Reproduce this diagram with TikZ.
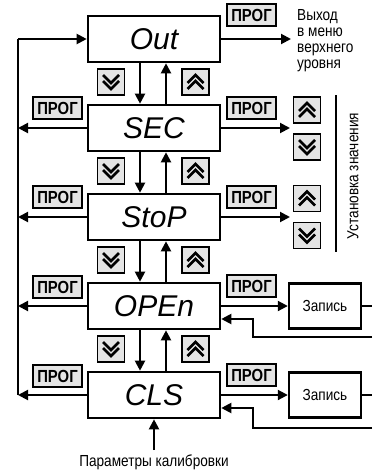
\documentclass[tikz,border=0pt]{standalone}
\usepackage{fontspec}
\setmainfont{Liberation Sans}
\newfontfamily\cond[FakeStretch=0.85]{Liberation Sans}
\usetikzlibrary{arrows.meta}
\definecolor{btn}{HTML}{E4E4E4}
\tikzset{
  mainbox/.style={draw, line width=2.6pt, minimum width=132pt, minimum height=46pt, inner sep=0pt,
    font=\fontsize{30}{30}\selectfont\itshape},
  zapbox/.style={draw, line width=2.4pt, minimum width=72pt, minimum height=45pt, inner sep=0pt,
    font=\cond\fontsize{16}{18}\selectfont},
  prog/.style={draw, line width=1.8pt, fill=btn, minimum width=49pt, minimum height=22pt, inner sep=0pt,
    font=\cond\bfseries\fontsize{17.5}{17.5}\selectfont},
  chbtn/.style={draw, line width=1.8pt, fill=btn, minimum width=27pt, minimum height=26pt, inner sep=0pt},
  chev/.style={line width=2.8pt, miter limit=10},
  conn/.style={line width=2pt},
  arr/.style={line width=2pt, -{Triangle[length=10pt,width=10pt]}},
  lbl/.style={font=\cond\fontsize{16}{16}\selectfont, inner sep=0pt},
}
\newcommand\dnchev[1]{\begin{scope}[shift={(#1.center)}]\draw[chev] (-8,-7)--(0,1)--(8,-7) (-8,-1)--(0,7)--(8,-1);\end{scope}}
\newcommand\upchev[1]{\begin{scope}[shift={(#1.center)}]\draw[chev] (-8,7)--(0,-1)--(8,7) (-8,1)--(0,-7)--(8,1);\end{scope}}
\begin{document}
\begin{tikzpicture}[x=1pt,y=-1pt]
\useasboundingbox (0,0) rectangle (372,471);
% main boxes
\node[mainbox] (out) at (154,39) {Out};
\node[mainbox] (sec) at (154,128) {SEC};
\node[mainbox] (stop) at (154,217) {StoP};
\node[mainbox] (open) at (154,306) {OPEn};
\node[mainbox] (cls) at (154,395) {CLS};
% left bus
\coordinate (L) at (18,39);
\coordinate (Lb) at (18,395);
\draw[conn] (Lb) -- (L);
\draw[arr] (L) -- (out.west);
\foreach \n in {sec,stop,open,cls} {\draw[arr] (\n.west) -- (\n.west -| L);}
% left prog
\node[prog] (pl1) at (57.5,108) {ПРОГ};
\node[prog] (pl2) at (57.5,197) {ПРОГ};
\node[prog] (pl3) at (57.5,287) {ПРОГ};
\node[prog] (pl4) at (57.5,376) {ПРОГ};
% vertical arrows between boxes
\draw[arr] ([xshift=-14pt]out.south) -- ([xshift=-14pt]sec.north);
\draw[arr] ([xshift=12pt]sec.north) -- ([xshift=12pt]out.south);
\draw[arr] ([xshift=-14pt]sec.south) -- ([xshift=-14pt]stop.north);
\draw[arr] ([xshift=12pt]stop.north) -- ([xshift=12pt]sec.south);
\draw[arr] ([xshift=-14pt]stop.south) -- ([xshift=-14pt]open.north);
\draw[arr] ([xshift=12pt]open.north) -- ([xshift=12pt]stop.south);
\draw[arr] ([xshift=-14pt]open.south) -- ([xshift=-14pt]cls.north);
\draw[arr] ([xshift=12pt]cls.north) -- ([xshift=12pt]open.south);
% chevron buttons between boxes
\foreach \i/\y in {1/82,2/171,3/260,4/349} {
  \node[chbtn] (d\i) at (111,\y) {};
  \node[chbtn] (u\i) at (195.5,\y) {};
  \dnchev{d\i}
  \upchev{u\i}
}
% right side
\node[prog] (pr0) at (251.5,15) {ПРОГ};
\node[prog] (pr1) at (251.5,108) {ПРОГ};
\node[prog] (pr2) at (251.5,197) {ПРОГ};
\node[prog] (pr3) at (251.5,286) {ПРОГ};
\node[prog] (pr4) at (251.5,375) {ПРОГ};
\coordinate (T0) at (291,39);
\draw[arr] (out.east) -- (T0);
\node[lbl, anchor=north west, align=left] (exit) at (297,9) {Выход\\в меню\\верхнего\\уровня};
\coordinate (T1) at (290,128);
\coordinate (T2) at (290,217);
\draw[arr] (sec.east) -- (T1);
\draw[arr] (stop.east) -- (T2);
\node[chbtn] (ru1) at (307,110) {};
\node[chbtn] (rd1) at (307,147) {};
\node[chbtn] (ru2) at (307,198.5) {};
\node[chbtn] (rd2) at (307,235.5) {};
\upchev{ru1}\dnchev{rd1}\upchev{ru2}\dnchev{rd2}
\coordinate (V1) at (336,95);
\coordinate (V2) at (336,252);
\draw[conn] (V1) -- (V2);
\node[lbl, rotate=90] (ust) at (353,176) {Установка значения};
% zapis boxes
\node[zapbox] (z1) at (325,306) {Запись};
\node[zapbox] (z2) at (325,395) {Запись};
\draw[arr] (open.east) -- (z1.west);
\draw[arr] (cls.east) -- (z2.west);
\coordinate (e1) at (372,306);
\coordinate (e2) at (372,395);
\draw[conn] (z1.east) -- (e1);
\draw[conn] (z2.east) -- (e2);
\coordinate (r1) at (372,337);
\coordinate (k1) at (253,319);
\coordinate (r2) at (372,428);
\coordinate (k2) at (253,408);
\draw[arr] (r1) -| (k1) -- (k1 -| open.east);
\draw[arr] (r2) -| (k2) -- (k2 -| cls.east);
% bottom
\coordinate (B) at (154,450);
\draw[arr] (B) -- (cls.south);
\node[lbl] (cal) at (154,462) {Параметры калибровки};
\end{tikzpicture}
\end{document}
